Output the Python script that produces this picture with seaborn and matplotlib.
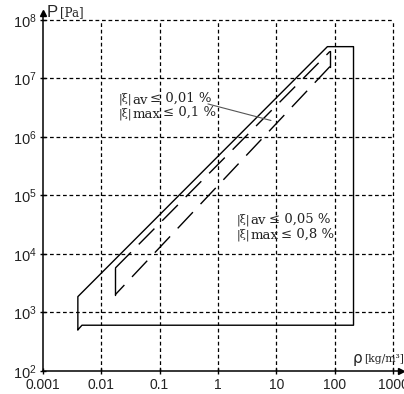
import matplotlib
matplotlib.use("Agg")
import matplotlib.pyplot as plt
import seaborn as sns
import pandas as pd
from matplotlib import font_manager
from matplotlib.ticker import NullLocator
from matplotlib.transforms import IdentityTransform

# ---------------- data ----------------
outer_rho = [0.004, 0.004, 75, 210, 210, 0.0047, 0.004]
outer_P = [500, 1850, 3.5e7, 3.5e7, 600, 600, 500]

inner_rho = [0.0175, 0.0175, 83, 83, 0.0175]
inner_P = [2000, 5700, 2.9e7, 1.6e7, 2000]

x_ticks = [0.001, 0.01, 0.1, 1, 10, 100, 1000]
x_tick_labels = ["0.001", "0.01", "0.1", "1", "10", "100", "1000"]
y_ticks = [1e2, 1e3, 1e4, 1e5, 1e6, 1e7, 1e8]
y_tick_labels = [r"$\mathregular{10^{%d}}$" % e for e in [2, 3, 4, 5, 6, 7, 8]]

note1_lines = [("|ξ|", "av", "≤ 0,01 %"), ("|ξ|", "max", "≤ 0,1 %")]
note2_lines = [("|ξ|", "av", "≤ 0,05 %"), ("|ξ|", "max", "≤ 0,8 %")]
note1_anchor = (0.0197, 4.0e6)
note2_anchor = (2.1, 3.46e4)
leader_rho = [0.676, 8.1]
leader_P = [3.66e6, 1.91e6]

# ---------------- style ----------------
sns.set_style("white")
fams = {f.name for f in font_manager.fontManager.ttflist}
sans = "Liberation Sans" if "Liberation Sans" in fams else "DejaVu Sans"
plt.rcParams['font.family'] = [sans, 'DejaVu Sans']
plt.rcParams['mathtext.fontset'] = 'custom'
plt.rcParams['mathtext.rm'] = sans
plt.rcParams['mathtext.it'] = sans
plt.rcParams['mathtext.bf'] = sans

W, H = 404, 394
fig = plt.figure(figsize=(W / 100, H / 100), dpi=100)
x0px, x1px, ybot, ytop = 42.7, 401, 370.7, 13
ax = fig.add_axes([x0px / W, (H - ybot) / H, (x1px - x0px) / W, (ybot - ytop) / H])
ax.set_xscale('log')
ax.set_yscale('log')
ax.set_xlim(1e-3, 10 ** (-3 + (x1px - x0px) / 58.4))
ax.set_ylim(1e2, 10 ** (2 + (ybot - ytop) / 58.45))
ax.set_facecolor('white')

# grid (dashed, bounded to the decade box)
grid_ls = (0, (3.0, 2.2))
ax.hlines(y_ticks[1:], x_ticks[0], x_ticks[-1], colors='black', linestyles=grid_ls, lw=0.9, zorder=1)
ax.vlines(x_ticks[1:], y_ticks[0], y_ticks[-1], colors='black', linestyles=grid_ls, lw=0.9, zorder=1)

# outer solid contour
outer_df = pd.DataFrame({"rho": outer_rho, "P": outer_P})
sns.lineplot(data=outer_df, x="rho", y="P", sort=False, estimator=None,
             color='black', lw=1.0, ax=ax, zorder=3)

# inner contour: verticals solid, diagonals long-dashed
inner_df = pd.DataFrame({"rho": inner_rho, "P": inner_P})
segs = [(0, 1, '-'), (1, 2, 'd'), (2, 3, '-'), (3, 4, 'd')]
for a, b, st in segs:
    seg = inner_df.iloc[[a, b]]
    sns.lineplot(data=seg, x="rho", y="P", sort=False, estimator=None,
                 color='black', lw=1.0, ax=ax, zorder=3)
    if st == 'd':
        ax.lines[-1].set_dashes((16, 8))

# leader line
ax.plot(leader_rho, leader_P, color='#555555', lw=0.8, zorder=3)

ax.set_xlabel("")
ax.set_ylabel("")

# spines & arrows
for s in ['top', 'right']:
    ax.spines[s].set_visible(False)
for s in ['left', 'bottom']:
    ax.spines[s].set_color('black')
    ax.spines[s].set_linewidth(1.1)
    ax.spines[s].set_zorder(4)
ax.plot(1, 0, marker='>', color='black', ms=5, transform=ax.transAxes, clip_on=False, zorder=5)
ax.plot(0, 1, marker='^', color='black', ms=5, transform=ax.transAxes, clip_on=False, zorder=5)

# ticks
ax.set_xticks(x_ticks)
ax.set_xticklabels(x_tick_labels, fontsize=10)
ax.set_yticks(y_ticks)
ax.set_yticklabels(y_tick_labels, fontsize=10.5)
ax.xaxis.set_minor_locator(NullLocator())
ax.yaxis.set_minor_locator(NullLocator())
ax.tick_params(axis='both', which='major', direction='inout', length=5, width=1,
               color='black', labelcolor='#222222', pad=2, left=True, bottom=True)
ax.tick_params(axis='x', pad=3)

# axis titles
fig.text(47 / W, 1 - 17.3 / H, "P", fontsize=12, family=sans, va='baseline', ha='left')
fig.text(60 / W, 1 - 16.5 / H, "[Pa]", fontsize=8.5, family='DejaVu Serif', va='baseline', ha='left')
fig.text(353 / W, 1 - 362.5 / H, "ρ", fontsize=11, family='DejaVu Sans', va='baseline', ha='left')
fig.text(364 / W, 1 - 362.5 / H, "[kg/m³]", fontsize=7.8, family='DejaVu Serif', va='baseline', ha='left')

# annotations built piece by piece
fig.canvas.draw()
renderer = fig.canvas.get_renderer()


def write_note(lines, anchor, gap_px):
    bx, by = ax.transData.transform(anchor)
    for i, (a, sub, rest) in enumerate(lines):
        y = by - i * gap_px
        x = bx
        for txt, dy, fs, pad in [(a, 0, 8, 0.5), (sub, -2, 9.5, 2.5), (rest, 0, 9.5, 0)]:
            t = fig.text(x, y + dy, txt, transform=IdentityTransform(), fontsize=fs,
                         family='DejaVu Serif', va='baseline', ha='left', color='#222222')
            bb = t.get_window_extent(renderer=renderer)
            x = bb.x1 + pad


write_note(note1_lines, note1_anchor, 14.5)
write_note(note2_lines, note2_anchor, 15)

fig.savefig("out.png", dpi=100, facecolor='white')
